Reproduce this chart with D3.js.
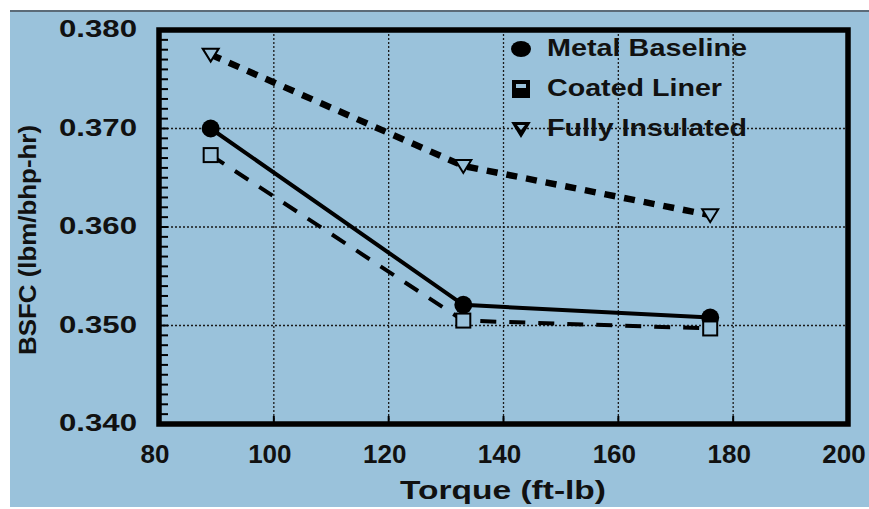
<!DOCTYPE html>
<html>
<head>
<meta charset="utf-8">
<script src="https://cdn.jsdelivr.net/npm/d3@7"></script>
<style>
  body { margin: 0; background: #fff; }
  text { font-family: "Liberation Sans", Arial, sans-serif; font-weight: bold; fill: #111; }
</style>
</head>
<body>
<div id="chart"></div>
<script>
// chart values
const torque = [89, 133, 176];
const metalBaseline = [0.3700, 0.3521, 0.3508];
const coatedLiner = [0.3673, 0.3505, 0.3497];
const fullyInsulated = [0.3775, 0.3662, 0.3612];
const seriesNames = ["Metal Baseline", "Coated Liner", "Fully Insulated"];
const xTicks = [80, 100, 120, 140, 160, 180, 200];
const yTicks = [0.340, 0.350, 0.360, 0.370, 0.380];

const W = 869, H = 509;
const svg = d3.select("#chart").append("svg")
  .attr("width", W).attr("height", H);

// backdrop
svg.append("rect").attr("x", 10).attr("y", 11).attr("width", W - 10).attr("height", H - 13)
  .attr("fill", "#9ac2db");
svg.append("line").attr("x1", 10).attr("x2", W).attr("y1", 11).attr("y2", 11)
  .attr("stroke", "#5b6b78").attr("stroke-width", 2);

const x = d3.scaleLinear().domain([80, 200]).range([159, 848]);
const y = d3.scaleLinear().domain([0.340, 0.380]).range([424, 30]);

// grid
const grid = svg.append("g").attr("stroke", "#1a1a1a").attr("stroke-width", 1.3)
  .attr("stroke-dasharray", "2,2");
grid.selectAll("line.v").data(xTicks.slice(1, -1)).enter().append("line")
  .attr("x1", d => x(d)).attr("x2", d => x(d)).attr("y1", y(0.380)).attr("y2", y(0.340));
grid.selectAll("line.h").data(yTicks.slice(1, -1)).enter().append("line")
  .attr("x1", x(80)).attr("x2", x(200)).attr("y1", d => y(d)).attr("y2", d => y(d));

// minor ticks on the left axis (inward)
const minor = d3.range(0.341, 0.3800, 0.001);
svg.append("g").selectAll("line").data(minor).enter().append("line")
  .attr("x1", x(80)).attr("x2", x(80) + 9)
  .attr("y1", d => y(d)).attr("y2", d => y(d))
  .attr("stroke", "#000").attr("stroke-width", 2);
// major ticks on bottom axis
svg.append("g").selectAll("line").data(xTicks.slice(1, -1)).enter().append("line")
  .attr("x1", d => x(d)).attr("x2", d => x(d))
  .attr("y1", y(0.340)).attr("y2", y(0.340) - 8)
  .attr("stroke", "#000").attr("stroke-width", 2);

// frame
svg.append("rect")
  .attr("x", x(80)).attr("y", y(0.380))
  .attr("width", x(200) - x(80)).attr("height", y(0.340) - y(0.380))
  .attr("fill", "none").attr("stroke", "#000").attr("stroke-width", 5.5);

// tick labels
svg.append("g").selectAll("text").data(yTicks).enter().append("text")
  .attr("x", 137).attr("y", d => y(d) + 7)
  .attr("text-anchor", "end").attr("font-size", 24)
  .attr("textLength", 78).attr("lengthAdjust", "spacingAndGlyphs")
  .text(d3.format(".3f"));
svg.append("g").selectAll("text").data(xTicks).enter().append("text")
  .attr("x", d => x(d) - 4).attr("y", 463)
  .attr("text-anchor", "middle").attr("font-size", 26)
  .text(d => d);

// axis titles
svg.append("text")
  .attr("x", 503).attr("y", 499).attr("text-anchor", "middle")
  .attr("font-size", 26).attr("textLength", 206).attr("lengthAdjust", "spacingAndGlyphs")
  .text("Torque (ft-lb)");
svg.append("text")
  .attr("transform", "translate(36,240) rotate(-90)")
  .attr("text-anchor", "middle").attr("font-size", 23)
  .attr("textLength", 230).attr("lengthAdjust", "spacingAndGlyphs")
  .text("BSFC (lbm/bhp-hr)");

// series
const line = d3.line().x(d => x(d[0])).y(d => y(d[1]));
const series = [
  { name: seriesNames[0], vals: metalBaseline, width: 4, dash: null, marker: "circle" },
  { name: seriesNames[1], vals: coatedLiner, width: 4, dash: "16,13", marker: "square" },
  { name: seriesNames[2], vals: fullyInsulated, width: 6.5, dash: "11,9", marker: "triangle" }
];

function drawMarker(g, kind, cx, cy, legend) {
  if (kind === "circle") {
    g.append("ellipse").attr("cx", cx).attr("cy", cy).attr("rx", legend ? 10 : 9).attr("ry", legend ? 8 : 9)
      .attr("fill", "#000");
  } else if (kind === "square") {
    const s = legend ? 8 : 7;
    g.append("rect").attr("x", cx - s).attr("y", cy - s).attr("width", 2 * s).attr("height", 2 * s)
      .attr("fill", legend ? "#000" : "#9ac2db").attr("stroke", "#000").attr("stroke-width", 2);
    if (legend) g.append("rect").attr("x", cx - 5).attr("y", cy - 5).attr("width", 10).attr("height", 4)
      .attr("fill", "#9ac2db");
  } else {
    g.append("path")
      .attr("d", `M${cx - 8},${cy - 6}L${cx + 8},${cy - 6}L${cx},${cy + 7}Z`)
      .attr("fill", legend ? "#000" : "#9ac2db").attr("stroke", "#000").attr("stroke-width", 2);
    if (legend) g.append("path").attr("d", `M${cx - 4},${cy - 4}L${cx + 4},${cy - 4}L${cx},${cy + 1}Z`)
      .attr("fill", "#9ac2db");
  }
}

series.forEach(s => {
  const pts = torque.map((t, i) => [t, s.vals[i]]);
  svg.append("path").datum(pts).attr("d", line)
    .attr("fill", "none").attr("stroke", "#000").attr("stroke-width", s.width)
    .attr("stroke-dasharray", s.dash);
  const g = svg.append("g");
  pts.forEach(p => drawMarker(g, s.marker, x(p[0]), y(p[1]), false));
});

// legend
const legendY = [49, 89, 129];
const legendLen = [200, 175, 200];
series.forEach((s, i) => {
  const g = svg.append("g");
  drawMarker(g, s.marker, 521, legendY[i], true);
  g.append("text").attr("x", 547).attr("y", legendY[i] + 7)
    .attr("font-size", 24).attr("textLength", legendLen[i]).attr("lengthAdjust", "spacingAndGlyphs")
    .text(s.name);
});
</script>
</body>
</html>
